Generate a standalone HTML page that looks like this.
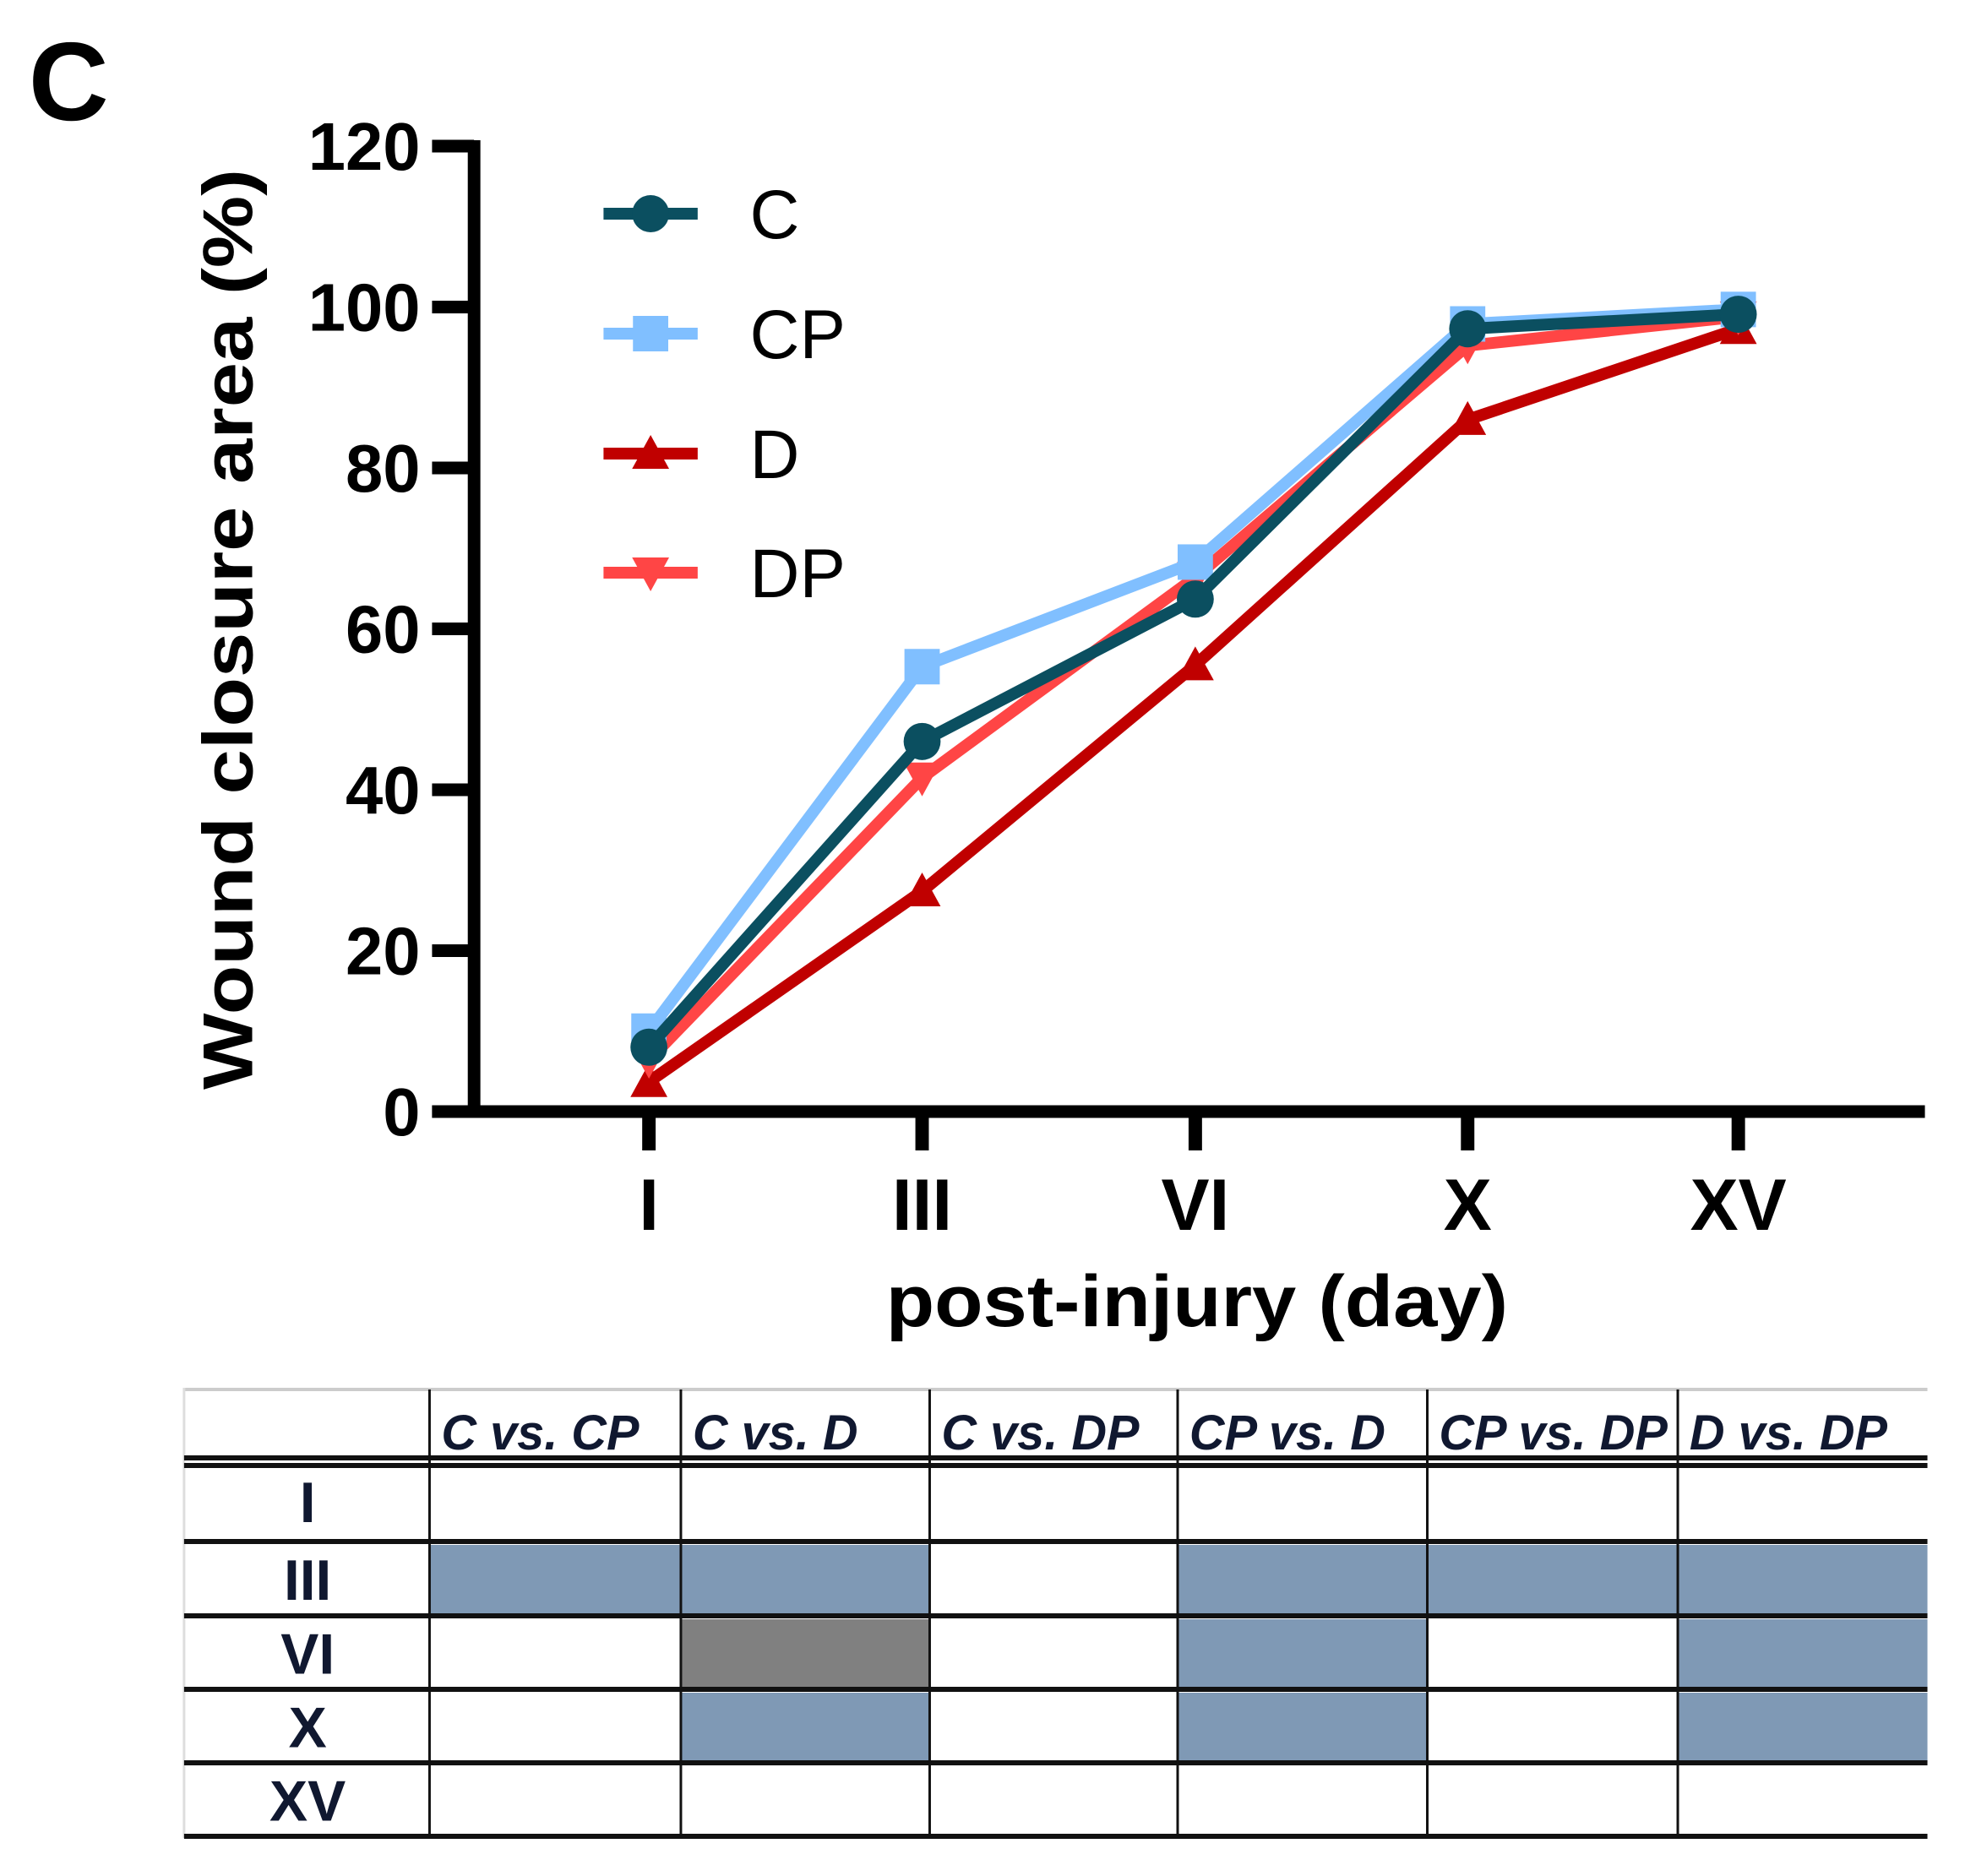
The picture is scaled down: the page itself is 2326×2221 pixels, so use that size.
<!DOCTYPE html>
<html><head><meta charset="utf-8"><style>
html,body{margin:0;padding:0;background:#fff}
svg{display:block}
</style></head><body>
<svg id="chart" width="2326" height="2221" viewBox="0 0 2326 2221" xmlns="http://www.w3.org/2000/svg" font-family="'Liberation Sans', Arial, sans-serif">
<g transform="scale(0.995 1)">
<text x="34" y="142" font-size="132" font-weight="bold">C</text>
<g id="plot"></g>
<g id="legend"></g>
<g id="table"></g>
</g>
</svg>
<script>
const days = ['I','III','VI','X','XV'];
const yTicks = [0,20,40,60,80,100,120];
const seriesNames = ['C','CP','D','DP'];
const valsC  = [8, 46, 63.7, 97.3, 99.1];
const valsCP = [10, 55.3, 68.3, 97.9, 99.7];
const valsD  = [3.7, 27.4, 55.5, 86, 97.3];
const valsDP = [6.4, 41.5, 66.4, 95.2, 98.8];
const comparisons = ['C vs. CP','C vs. D','C vs. DP','CP vs. D','CP vs. DP','D vs. DP'];
// 0 = none, 1 = blue, 2 = gray
const sigI   = [0,0,0,0,0,0];
const sigIII = [1,1,0,1,1,1];
const sigVI  = [0,2,0,1,0,1];
const sigX   = [0,1,0,1,0,1];
const sigXV  = [0,0,0,0,0,0];

const NS='http://www.w3.org/2000/svg';
function mk(tag, attrs, parent){const e=document.createElementNS(NS,tag);for(const k in attrs)e.setAttribute(k,attrs[k]);parent.appendChild(e);return e;}
const plot=document.getElementById('plot');
const yScale=v=>1316-v*9.525;
const xPos=[772,1097,1422,1746,2068];
const xScale=i=>xPos[i];

let ax=mk('line',{x1:564,y1:166,x2:564,y2:1323,stroke:'#000','stroke-width':15},plot);


ax=mk('line',{x1:514,y1:1316,x2:2290,y2:1316,stroke:'#000','stroke-width':15},plot);


yTicks.forEach(t=>{
  const y=yScale(t);
  const l=mk('line',{x1:514,y1:y,x2:564,y2:y,stroke:'#000','stroke-width':15},plot);
  
  
  const tx=mk('text',{x:500,y:y+28,'text-anchor':'end','font-size':80,'font-weight':'bold'},plot);
  tx.textContent=t;
  
  
});
days.forEach((d,i)=>{
  const x=xScale(i);
  const l=mk('line',{x1:x,y1:1316,x2:x,y2:1362,stroke:'#000','stroke-width':16},plot);
  
  
  const tx=mk('text',{x:x,y:1456,'text-anchor':'middle','font-size':86,'font-weight':'bold'},plot);
  tx.textContent=d;
  
  
});
let tt=mk('text',{x:1424,y:1570,'text-anchor':'middle','font-size':86,'font-weight':'bold',textLength:740,lengthAdjust:'spacingAndGlyphs'},plot);
tt.textContent='post-injury (day)';


tt=mk('text',{x:0,y:0,'text-anchor':'middle','font-size':84,'font-weight':'bold',transform:'translate(300,745) rotate(-90)',textLength:1090,lengthAdjust:'spacingAndGlyphs'},plot);
tt.textContent='Wound closure area (%)';



const colors={C:'#0b4f60',CP:'#80bfff',D:'#c00000',DP:'#ff4545'};
const data={C:valsC,CP:valsCP,D:valsD,DP:valsDP};
function marker(name,x,y,g){
  const c=colors[name];let m;
  if(name==='C') m=mk('circle',{cx:x,cy:y,r:22,fill:c},g);
  else if(name==='CP') m=mk('rect',{x:x-21,y:y-21,width:42,height:42,fill:c},g);
  else if(name==='D') m=mk('polygon',{points:`${x},${y-22} ${x+22},${y+18} ${x-22},${y+18}`,fill:c},g);
  else m=mk('polygon',{points:`${x},${y+22} ${x+22},${y-18} ${x-22},${y-18}`,fill:c},g);
  return m;
}
['D','DP','CP','C'].forEach(n=>{
  const g=mk('g',{},plot);
  
  
  const pts=data[n].map((v,i)=>xScale(i)+','+yScale(v)).join(' ');
  const pl=mk('polyline',{points:pts,fill:'none',stroke:colors[n],'stroke-width':14,'stroke-linejoin':'miter'},g);
  
  
  data[n].forEach((v,i)=>{
    const m=marker(n,xScale(i),yScale(v),g);
    
    
  });
});

const leg=document.getElementById('legend');
const legY=[253,395,537,678];
seriesNames.forEach((n,i)=>{
  const g=mk('g',{},leg);
  
  
  mk('line',{x1:718,y1:legY[i],x2:830,y2:legY[i],stroke:colors[n],'stroke-width':14},g);
  marker(n,774,legY[i],g);
  const t=mk('text',{x:892,y:legY[i]+29,'font-size':82},g);
  t.textContent=n;
});

const tb=document.getElementById('table');
const colX=[219,511,810,1106,1401,1698,1996,2293];
const rowY=[1643,1729,1825,1913,2000,2087,2174];
const sig=[sigI,sigIII,sigVI,sigX,sigXV];
sig.forEach((row,r)=>{
  row.forEach((s,c)=>{
    if(s){
      const rc=mk('rect',{x:colX[c+1],y:rowY[r+1]+4,width:colX[c+2]-colX[c+1],height:rowY[r+2]-rowY[r+1]-4,fill:s===1?'#7f99b5':'#808080'},tb);
      
      
    }
  });
});
mk('line',{x1:219,y1:1645,x2:2293,y2:1645,stroke:'#ccc','stroke-width':4},tb);
mk('line',{x1:219,y1:1643,x2:219,y2:2176,stroke:'#ddd','stroke-width':3},tb);
mk('line',{x1:219,y1:1726,x2:2293,y2:1726,stroke:'#111','stroke-width':6},tb);
mk('line',{x1:219,y1:1735,x2:2293,y2:1735,stroke:'#111','stroke-width':6},tb);
for(let r=2;r<rowY.length;r++) mk('line',{x1:219,y1:rowY[r],x2:2293,y2:rowY[r],stroke:'#111','stroke-width':6},tb);
for(let c=1;c<colX.length-1;c++) mk('line',{x1:colX[c],y1:1645,x2:colX[c],y2:2174,stroke:'#111','stroke-width':3},tb);
comparisons.forEach((h,c)=>{
  const t=mk('text',{x:colX[c+1]+14,y:1716,'font-size':58,'font-weight':'bold','font-style':'italic',fill:'#101830'},tb);
  t.textContent=h;
  
  
});
days.forEach((d,r)=>{
  const t=mk('text',{x:366,y:(rowY[r+1]+rowY[r+2])/2+25,'text-anchor':'middle','font-size':68,'font-weight':'bold',fill:'#101830'},tb);
  t.textContent=d;
  
  
});
</script>
</body></html>
